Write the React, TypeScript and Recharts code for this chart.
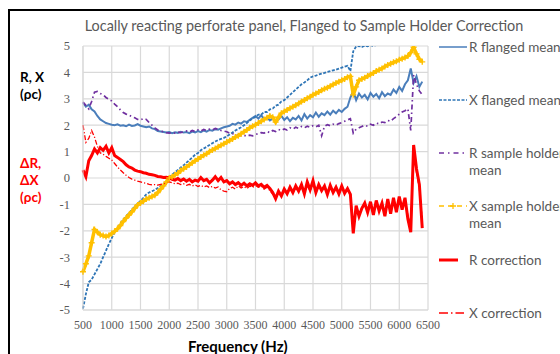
import React from 'react';
import { LineChart, Line, XAxis, YAxis, CartesianGrid } from 'recharts';

// Frequency sampling of every series (Hz)
const FREQ_START = 500;
const FREQ_STEP = 50;

const X_TICKS = [500, 1000, 1500, 2000, 2500, 3000, 3500, 4000, 4500, 5000, 5500, 6000, 6500];
const Y_TICKS = [-5, -4, -3, -2, -1, 0, 1, 2, 3, 4, 5];

// Resistance / reactance, rows of 10 samples (500, 1000, 1500 ... 6000 Hz)
const R_FLANGED = [
  2.85, 2.70, 2.78, 2.60, 2.52, 2.35, 2.22, 2.15, 2.08, 2.05,
  2.02, 2.00, 2.03, 1.98, 2.00, 1.96, 2.02, 1.97, 1.99, 2.04,
  1.98, 1.95, 1.92, 1.95, 1.88, 1.85, 1.78, 1.76, 1.74, 1.72,
  1.74, 1.70, 1.73, 1.71, 1.75, 1.72, 1.74, 1.70, 1.76, 1.73,
  1.78, 1.74, 1.80, 1.76, 1.82, 1.79, 1.85, 1.83, 1.88, 1.92,
  1.95, 1.98, 2.05, 2.02, 2.10, 2.06, 2.15, 2.12, 2.20, 2.28,
  2.35, 2.25, 2.38, 2.22, 2.30, 2.18, 2.25, 2.15, 2.22, 2.35,
  2.20, 2.30, 2.15, 2.28, 2.22, 2.35, 2.18, 2.42, 2.25, 2.38,
  2.30, 2.48, 2.32, 2.45, 2.38, 2.52, 2.40, 2.55, 2.45, 2.58,
  2.50, 2.62, 2.70, 3.05, 3.30, 2.95, 3.20, 3.05, 3.15, 2.98,
  3.22, 3.08, 3.18, 3.02, 3.25, 3.10, 3.20, 3.15, 3.35, 3.22,
  3.45, 3.30, 3.55, 3.70, 4.15, 3.60, 3.85, 3.45, 3.65,
];

const X_FLANGED = [
  -4.95, -4.40, -3.95, -3.85, -3.65, -3.45, -3.25, -3.00, -2.75, -2.50,
  -2.28, -2.05, -1.90, -1.72, -1.58, -1.45, -1.32, -1.20, -1.08, -0.97,
  -0.87, -0.75, -0.62, -0.55, -0.50, -0.45, -0.38, -0.30, -0.22, -0.12,
  0.02, 0.12, 0.22, 0.30, 0.40, 0.48, 0.58, 0.68, 0.78, 0.88,
  0.95, 1.05, 1.12, 1.18, 1.25, 1.32, 1.38, 1.44, 1.48, 1.52,
  1.58, 1.65, 1.72, 1.80, 1.86, 1.92, 2.00, 2.08, 2.18, 2.25,
  2.32, 2.40, 2.40, 2.50, 2.50, 2.60, 2.63, 2.74, 2.78, 2.90,
  2.95, 3.05, 3.15, 3.25, 3.35, 3.45, 3.55, 3.62, 3.70, 3.80,
  3.85, 3.88, 3.92, 3.95, 3.98, 4.02, 4.05, 4.08, 4.10, 4.14,
  4.18, 4.22, 4.25, 4.05, 4.80, 4.98, 5.00, 4.96, 5.02, 4.99,
  5.03, 5.00, 5.04, 5.10, 5.25, 5.35, 5.40, 5.45, 5.50, 5.55,
  5.60, 5.65, 5.70, 5.75, 5.80, 5.85, 5.90, 5.95, 6.00,
];

const R_HOLDER = [
  2.88, 2.75, 2.62, 2.90, 3.25, 3.28, 3.20, 3.15, 3.05, 2.98,
  2.92, 2.80, 2.70, 2.58, 2.48, 2.42, 2.38, 2.32, 2.28, 2.22,
  2.20, 2.25, 2.22, 2.10, 2.00, 1.90, 1.82, 1.78, 1.75, 1.72,
  1.70, 1.72, 1.70, 1.74, 1.72, 1.75, 1.78, 1.74, 1.80, 1.76,
  1.82, 1.78, 1.84, 1.80, 1.85, 1.82, 1.88, 1.84, 1.80, 1.78,
  1.75, 1.70, 1.68, 1.65, 1.62, 1.60, 1.62, 1.58, 1.62, 1.60,
  1.65, 1.68, 1.72, 1.70, 1.76, 1.72, 1.80, 1.76, 1.84, 1.80,
  1.86, 1.82, 1.90, 1.85, 1.92, 1.88, 1.95, 1.90, 1.96, 1.92,
  1.98, 1.94, 2.00, 1.60, 1.96, 2.02, 1.98, 2.04, 2.00, 2.06,
  2.10, 2.15, 2.20, 2.25, 1.70, 1.85, 1.90, 1.95, 2.00, 1.96,
  2.04, 2.00, 2.08, 2.05, 2.12, 2.10, 2.18, 2.15, 2.25, 2.32,
  2.42, 2.50, 2.55, 2.62, 1.80, 3.90, 3.55, 3.30, 3.15,
];

const X_HOLDER = [
  -3.55, -3.25, -2.95, -2.45, -1.95, -2.05, -2.15, -2.18, -2.22, -2.18,
  -2.10, -2.02, -1.92, -1.80, -1.65, -1.52, -1.40, -1.28, -1.15, -1.02,
  -0.95, -0.88, -0.80, -0.75, -0.70, -0.65, -0.55, -0.42, -0.30, -0.15,
  0.00, 0.05, 0.12, 0.18, 0.28, 0.35, 0.42, 0.50, 0.58, 0.65,
  0.72, 0.80, 0.86, 0.92, 1.00, 1.06, 1.12, 1.18, 1.24, 1.30,
  1.36, 1.42, 1.48, 1.55, 1.60, 1.68, 1.75, 1.82, 1.90, 1.96,
  2.02, 2.08, 2.15, 2.22, 2.28, 2.35, 2.30, 2.12, 2.30, 2.45,
  2.52, 2.58, 2.64, 2.70, 2.76, 2.82, 2.90, 2.95, 3.02, 3.08,
  3.15, 3.20, 3.26, 3.32, 3.38, 3.42, 3.48, 3.54, 3.60, 3.65,
  3.70, 3.75, 3.82, 3.85, 3.15, 3.45, 3.70, 3.75, 3.80, 3.86,
  3.92, 3.98, 4.05, 4.10, 4.15, 4.22, 4.28, 4.33, 4.38, 4.42,
  4.48, 4.52, 4.56, 4.62, 4.75, 4.95, 4.70, 4.50, 4.40,
];

const R_CORRECTION = [
  0.30, 0.05, 0.65, 0.85, 1.10, 0.95, 1.15, 1.05, 1.20, 0.95,
  1.15, 0.85, 0.78, 0.70, 0.62, 0.50, 0.42, 0.38, 0.30, 0.26,
  0.24, 0.20, 0.18, 0.14, 0.12, 0.10, 0.06, 0.05, 0.02, 0.03,
  0.00, -0.05, -0.08, -0.02, -0.10, -0.04, -0.12, -0.05, -0.15, -0.08,
  -0.12, 0.02, -0.10, -0.05, -0.18, -0.08, 0.05, -0.10, 0.02, -0.15,
  -0.10, -0.22, -0.15, -0.25, -0.18, -0.28, -0.20, -0.30, -0.22, -0.28,
  -0.18, -0.30, -0.24, -0.35, -0.28, -0.40, -0.55, -0.78, -0.50, -0.68,
  -0.42, -0.60, -0.35, -0.55, -0.30, -0.50, -0.25, -0.60, -0.15, -0.45,
  -0.10, -0.55, -0.25, -0.48, -0.30, -0.62, -0.28, -0.55, -0.35, -0.60,
  -0.30, -0.58, -0.40, -0.62, -2.10, -1.05, -1.45, -1.15, -0.95, -1.30,
  -0.90, -1.40, -0.85, -1.25, -0.95, -1.45, -0.80, -1.35, -0.75, -1.30,
  -0.70, -1.20, -0.75, -1.55, -2.05, 1.25, 0.35, -0.25, -1.90,
];

const X_CORRECTION = [
  2.00, 1.35, 1.50, 1.80, 1.55, 1.20, 0.95, 0.90, 0.82, 0.75,
  0.68, 0.55, 0.42, 0.30, 0.20, 0.10, 0.02, -0.04, -0.08, -0.12,
  -0.15, -0.18, -0.20, -0.24, -0.26, -0.25, -0.27, -0.24, -0.22, -0.18,
  -0.15, -0.18, -0.22, -0.20, -0.25, -0.22, -0.28, -0.24, -0.30, -0.26,
  -0.32, -0.28, -0.34, -0.30, -0.36, -0.32, -0.38, -0.34, -0.45, -0.50,
  -0.52, -0.40, -0.35, -0.42, -0.30, -0.38, -0.32, -0.40, -0.30, -0.36,
  -0.28, -0.35, -0.30, -0.42, -0.35, -0.48, -0.62, -0.70, -0.58, -0.62,
  -0.50, -0.55, -0.45, -0.50, -0.40, -0.48, -0.38, -0.52, -0.30, -0.48,
  -0.25, -0.50, -0.35, -0.45, -0.40, -0.55, -0.38, -0.52, -0.42, -0.55,
  -0.40, -0.52, -0.45, -0.58, -1.80, -1.20, -1.35, -1.10, -1.05, -1.25,
  -1.00, -1.30, -0.95, -1.20, -1.05, -1.35, -0.90, -1.25, -0.88, -1.22,
  -0.85, -1.15, -0.90, -1.40, -1.85, 0.90, 0.20, -0.40, -1.60,
];

const SERIES = [
  { key: 'rFlanged', name: ['R flanged mean'], values: R_FLANGED, color: '#4A7EBB', width: 2, dash: undefined, legendY: 47 },
  { key: 'xFlanged', name: ['X flanged mean'], values: X_FLANGED, color: '#2E75B6', width: 1.8, dash: '3 1.5', legendY: 100 },
  { key: 'rHolder', name: ['R sample holder', 'mean'], values: R_HOLDER, color: '#7030A0', width: 1.7, dash: '5 3 1.5 3', legendY: 153 },
  { key: 'xHolder', name: ['X sample holder', 'mean'], values: X_HOLDER, color: '#FFC000', width: 3.5, dash: undefined, legendY: 206 },
  { key: 'rCorr', name: ['R correction'], values: R_CORRECTION, color: '#FF0000', width: 3, dash: undefined, legendY: 260 },
  { key: 'xCorr', name: ['X correction'], values: X_CORRECTION, color: '#FF0000', width: 1.3, dash: '5 2 1.2 2', legendY: 313 },
];

const data = R_FLANGED.map((_, i) => {
  const row: Record<string, number> = { f: FREQ_START + i * FREQ_STEP };
  SERIES.forEach((s) => { row[s.key] = s.values[i]; });
  return row;
});

const FONT = 'Lato, "Open Sans", sans-serif';
const TICK_FONT = '"Liberation Serif", serif';
const GREY = '#595959';

const PlusDot = (props: any) => {
  const { cx, cy, index } = props;
  if (cx == null || cy == null) return <g key={index} />;
  return (
    <path key={index} d={`M${cx - 3},${cy}h6M${cx},${cy - 3}v6`} stroke="#FFC000" strokeWidth={1.4} fill="none" />
  );
};

const LegendPanel = () => {
  const x0 = 439;
  const x1 = 467;
  return (
    <svg width={560} height={354} style={{ position: 'absolute', left: 0, top: 0, pointerEvents: 'none' }}>
      {SERIES.map((s) => {
        const y = s.legendY;
        let sym: React.ReactNode;
        if (s.key === 'xHolder') {
          sym = (
            <g>
              <line x1={x0} y1={y} x2={x1} y2={y} stroke={s.color} strokeWidth={1.5} strokeDasharray="5 4" />
              <path d={`M${(x0 + x1) / 2 - 3},${y}h6M${(x0 + x1) / 2},${y - 3}v6`} stroke={s.color} strokeWidth={1.3} />
            </g>
          );
        } else if (s.key === 'rCorr') {
          sym = <line x1={x0} y1={y} x2={x0 + 19} y2={y} stroke={s.color} strokeWidth={3} />;
        } else if (s.key === 'xCorr') {
          sym = <line x1={x0} y1={y} x2={x1 - 3} y2={y} stroke={s.color} strokeWidth={1.3} strokeDasharray="9 3 1.5 3" />;
        } else if (s.key === 'rHolder') {
          sym = <line x1={x0} y1={y} x2={x1} y2={y} stroke={s.color} strokeWidth={1.5} strokeDasharray="5 4 1.5 4" />;
        } else {
          sym = <line x1={x0} y1={y} x2={x1} y2={y} stroke={s.color} strokeWidth={1.5} strokeDasharray={s.dash} />;
        }
        return (
          <g key={s.key}>
            {sym}
            {s.name.map((t, j) => (
              <text key={t} x={469} y={y + j * 17.5} dy="0.35em" fontFamily={FONT} fontSize={13.5} fill={GREY}>
                {t}
              </text>
            ))}
          </g>
        );
      })}
    </svg>
  );
};

const labelStyle: React.CSSProperties = {
  position: 'absolute',
  fontFamily: FONT,
  fontWeight: 700,
  fontSize: 13.5,
  lineHeight: '17px',
  whiteSpace: 'nowrap',
};

export default function App() {
  return (
    <div style={{ position: 'relative', width: 560, height: 354, overflow: 'hidden', background: '#fff' }}>
      <style>{'html,body{margin:0;padding:0;overflow:hidden;}'}</style>
      <div
        style={{
          position: 'absolute', left: 8, top: 9, width: 700, height: 500,
          borderTop: '2px solid #000', borderLeft: '2px solid #000',
        }}
      />
      <div
        style={{
          position: 'absolute', left: 0, width: 608, top: 17, textAlign: 'center',
          fontFamily: FONT, fontSize: 14.4, color: GREY, whiteSpace: 'nowrap',
        }}
      >
        Locally reacting perforate panel, Flanged to Sample Holder Correction
      </div>
      <div style={{ ...labelStyle, left: 20, top: 69, color: '#000' }}>
        R, X<br />(ρc)
      </div>
      <div style={{ ...labelStyle, left: 20, top: 155, color: '#FF0000' }}>
        ΔR,<br />ΔX<br />(ρc)
      </div>
      <div
        style={{
          position: 'absolute', left: 188, top: 337, fontFamily: FONT, fontWeight: 700,
          fontSize: 15, color: '#000', whiteSpace: 'nowrap',
        }}
      >
        Frequency (Hz)
      </div>
      <div style={{ position: 'absolute', left: 0, top: 0 }}>
        <LineChart width={560} height={354} data={data} margin={{ top: 46, right: 132, bottom: 14, left: 0 }}>
          <CartesianGrid stroke="#d9d9d9" strokeWidth={1.2} />
          <XAxis
            dataKey="f"
            type="number"
            domain={[500, 6500]}
            ticks={X_TICKS}
            interval={0}
            axisLine={{ stroke: '#d9d9d9' }}
            tickLine={false}
            tickSize={6}
            tickMargin={4}
            height={30}
            tick={{ fill: GREY, fontSize: 12, fontFamily: TICK_FONT }}
          />
          <YAxis
            type="number"
            domain={[-5, 5]}
            ticks={Y_TICKS}
            interval={0}
            allowDataOverflow
            axisLine={{ stroke: '#d9d9d9' }}
            tickLine={false}
            tickSize={6}
            tickMargin={7}
            width={83}
            tick={{ fill: GREY, fontSize: 12.5, fontFamily: TICK_FONT }}
          />
          {SERIES.map((s) => (
            <Line
              key={s.key}
              type="linear"
              dataKey={s.key}
              stroke={s.color}
              strokeWidth={s.width}
              strokeDasharray={s.dash}
              dot={s.key === 'xHolder' ? PlusDot : false}
              activeDot={false}
              isAnimationActive={false}
            />
          ))}
        </LineChart>
      </div>
      <LegendPanel />
    </div>
  );
}
